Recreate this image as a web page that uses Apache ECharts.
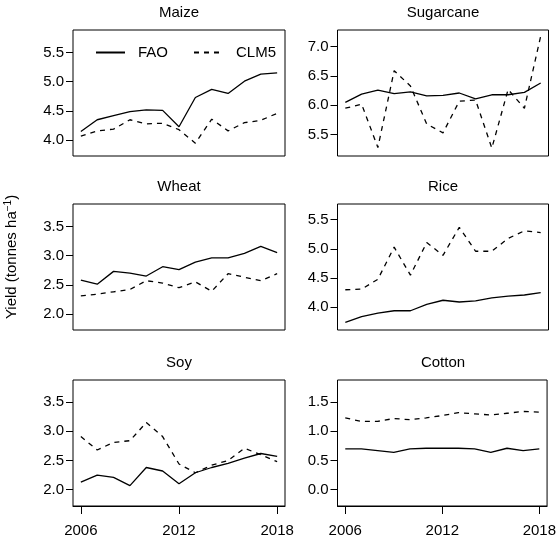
<!DOCTYPE html>
<html>
<head>
<meta charset="utf-8">
<script src="https://cdn.jsdelivr.net/npm/echarts@6/dist/echarts.min.js"></script>
<style>
  html, body { margin: 0; padding: 0; background: #fff; }
  #chart { width: 559px; height: 538px; }
</style>
</head>
<body>
<div id="chart"></div>
<script>
// Crop yields 2006-2018: FAO statistics vs CLM5 simulation (tonnes per hectare)
const years = [2006, 2007, 2008, 2009, 2010, 2011, 2012, 2013, 2014, 2015, 2016, 2017, 2018];
const xTicks = [2006, 2012, 2018];

const crops = ['Maize', 'Sugarcane', 'Wheat', 'Rice', 'Soy', 'Cotton'];

const maizeFAO  = [4.15, 4.35, 4.42, 4.49, 4.52, 4.51, 4.23, 4.73, 4.87, 4.80, 5.01, 5.13, 5.15];
const maizeCLM5 = [4.07, 4.16, 4.19, 4.35, 4.28, 4.29, 4.18, 3.95, 4.36, 4.16, 4.30, 4.34, 4.46];

const sugarcaneFAO  = [6.05, 6.19, 6.26, 6.20, 6.23, 6.16, 6.17, 6.21, 6.11, 6.18, 6.18, 6.22, 6.38];
const sugarcaneCLM5 = [5.95, 6.02, 5.28, 6.59, 6.33, 5.68, 5.53, 6.07, 6.09, 5.27, 6.27, 5.95, 7.18];

const wheatFAO  = [2.58, 2.51, 2.73, 2.70, 2.65, 2.81, 2.76, 2.89, 2.96, 2.96, 3.04, 3.16, 3.05];
const wheatCLM5 = [2.31, 2.34, 2.38, 2.42, 2.57, 2.53, 2.45, 2.55, 2.39, 2.69, 2.63, 2.57, 2.69];

const riceFAO  = [3.74, 3.84, 3.90, 3.94, 3.94, 4.05, 4.12, 4.09, 4.11, 4.16, 4.19, 4.21, 4.25];
const riceCLM5 = [4.30, 4.31, 4.48, 5.03, 4.55, 5.11, 4.89, 5.37, 4.96, 4.96, 5.18, 5.31, 5.28];

const soyFAO  = [2.13, 2.25, 2.21, 2.07, 2.38, 2.32, 2.10, 2.29, 2.38, 2.45, 2.54, 2.62, 2.57];
const soyCLM5 = [2.91, 2.68, 2.81, 2.84, 3.15, 2.91, 2.44, 2.29, 2.42, 2.50, 2.71, 2.60, 2.48];

const cottonFAO  = [0.70, 0.70, 0.67, 0.64, 0.70, 0.71, 0.71, 0.71, 0.70, 0.64, 0.71, 0.67, 0.70];
const cottonCLM5 = [1.23, 1.17, 1.17, 1.22, 1.20, 1.23, 1.27, 1.32, 1.30, 1.28, 1.31, 1.34, 1.33];

const maizeTicks     = [4.0, 4.5, 5.0, 5.5];
const sugarcaneTicks = [5.5, 6.0, 6.5, 7.0];
const wheatTicks     = [2.0, 2.5, 3.0, 3.5];
const riceTicks      = [4.0, 4.5, 5.0, 5.5];
const soyTicks       = [2.0, 2.5, 3.0, 3.5];
const cottonTicks    = [0.0, 0.5, 1.0, 1.5];

const faoSeries  = [maizeFAO, sugarcaneFAO, wheatFAO, riceFAO, soyFAO, cottonFAO];
const clm5Series = [maizeCLM5, sugarcaneCLM5, wheatCLM5, riceCLM5, soyCLM5, cottonCLM5];
const tickSets   = [maizeTicks, sugarcaneTicks, wheatTicks, riceTicks, soyTicks, cottonTicks];

// Panel layout and y-range (each panel spans 2 units plus 4% padding)
const yRanges = [[3.73, 5.885], [5.135, 7.285], [1.725, 3.885], [3.61, 5.77], [1.72, 3.88], [-0.28, 1.88]];
const colLeft = [73, 337.5];
const colWidth = [212, 211];
const rowTop = [30, 204, 380];
const panelHeight = 126;

const FONT = '"Liberation Sans", Arial, Helvetica, sans-serif';

const grids = [], xAxes = [], yAxes = [], series = [], graphics = [];

crops.forEach((name, i) => {
  const col = i % 2, row = Math.floor(i / 2);
  const bottomRow = row === 2;
  grids.push({
    left: colLeft[col], top: rowTop[row], width: colWidth[col], height: panelHeight,
    show: true, borderColor: '#000', borderWidth: 1
  });
  // Year axis: only the bottom row carries ticks and labels; drawn on its own layer
  xAxes.push({
    type: 'value', gridIndex: i, min: 2005.52, max: 2018.48,
    zlevel: bottomRow ? 1 : 0, z: 20,
    axisLine: { show: bottomRow, onZero: false, lineStyle: { color: '#000', width: 1 } },
    splitLine: { show: false },
    axisTick: { show: bottomRow, length: 8, lineStyle: { color: '#000', width: 1 }, customValues: xTicks },
    axisLabel: {
      show: bottomRow, customValues: xTicks, margin: 17,
      color: '#000', fontSize: 15, fontFamily: FONT,
      formatter: v => String(Math.round(v))
    }
  });
  yAxes.push({
    type: 'value', gridIndex: i, min: yRanges[i][0], max: yRanges[i][1],
    axisLine: { show: false, onZero: false },
    splitLine: { show: false },
    axisTick: { show: true, length: 7, lineStyle: { color: '#000', width: 1 }, customValues: tickSets[i] },
    axisLabel: {
      customValues: tickSets[i], margin: 9,
      color: '#000', fontSize: 15, fontFamily: FONT,
      formatter: v => v.toFixed(1)
    }
  });
  series.push({
    name: 'FAO', type: 'line', xAxisIndex: i, yAxisIndex: i,
    data: years.map((y, k) => [y, faoSeries[i][k]]),
    symbol: 'none', silent: true, animation: false,
    itemStyle: { color: '#000' },
    lineStyle: { color: '#000', width: 1.3, type: 'solid' }
  });
  series.push({
    name: 'CLM5', type: 'line', xAxisIndex: i, yAxisIndex: i,
    data: years.map((y, k) => [y, clm5Series[i][k]]),
    symbol: 'none', silent: true, animation: false,
    itemStyle: { color: '#000' },
    lineStyle: { color: '#000', width: 1.3, type: [5, 5] }
  });
  graphics.push({
    type: 'text',
    x: colLeft[col] + colWidth[col] / 2,
    y: rowTop[row] - 17,
    style: { text: name, fill: '#000', font: '15px ' + FONT, textAlign: 'center', textVerticalAlign: 'middle' }
  });
});

// Shared y-axis title on the left margin
graphics.push({
  type: 'text',
  x: 12, y: 257,
  rotation: Math.PI / 2,
  style: {
    text: 'Yield (tonnes ha{sup|−1})',
    fill: '#000', font: '15px ' + FONT,
    textAlign: 'center', textVerticalAlign: 'middle',
    rich: { sup: { fontSize: 10, fontFamily: FONT, fill: '#000', verticalAlign: 'top', padding: [0, 0, 8, 0] } }
  }
});

const chart = echarts.init(document.getElementById('chart'), null, { renderer: 'canvas' });
chart.setOption({
  animation: false,
  grid: grids,
  xAxis: xAxes,
  yAxis: yAxes,
  legend: {
    data: ['FAO', 'CLM5'],
    left: 90, top: 40,
    itemWidth: 29, itemHeight: 14, itemGap: 25,
    selectedMode: false,
    itemStyle: { opacity: 0 },
    textStyle: { color: '#000', fontSize: 15, fontFamily: FONT, padding: [0, 0, 0, 8] }
  },
  series: series,
  graphic: graphics
});
</script>
</body>
</html>
